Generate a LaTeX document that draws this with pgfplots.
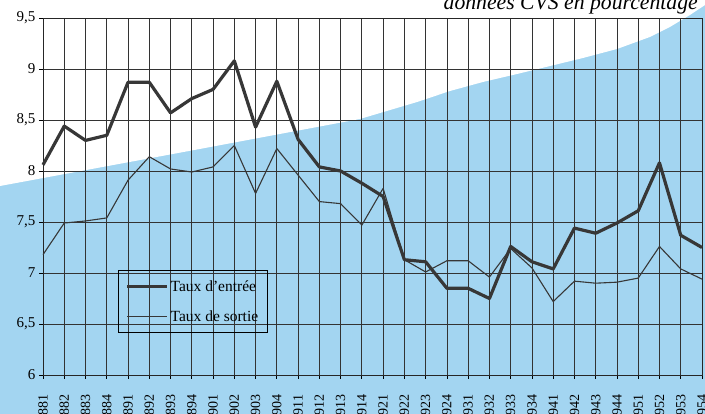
\documentclass[border=0pt]{standalone}
\usepackage{fontspec}
\setmainfont{Liberation Serif}
\usepackage{pgfplots}
\pgfplotsset{compat=1.18}
\definecolor{bgblue}{RGB}{163,213,241}
\definecolor{linegray}{RGB}{55,55,55}
\begin{document}
\begin{tikzpicture}
\begin{axis}[
  set layers,
  scale only axis,
  width=659pt, height=357pt,
  xmin=0, xmax=31, ymin=6, ymax=9.5,
  clip=false,
  /pgf/number format/assume math mode=true,
  xtick={0,...,31},
  xticklabels={881,882,883,884,891,892,893,894,901,902,903,904,911,912,913,914,921,922,923,924,931,932,933,934,941,942,943,944,951,952,953,954},
  ytick={6,6.5,...,9.5},
  yticklabels={6,{6,5},7,{7,5},8,{8,5},9,{9,5}},
  xtick pos=bottom, ytick pos=left,
  tick align=outside, major tick length=4pt,
  tick style={black, line width=0.8pt},
  grid=major,
  major grid style={line width=0.8pt, color=black!80},
  axis line style={line width=0.8pt, black!85},
  xticklabel style={rotate=90, anchor=east, font=\fontsize{14}{16}\selectfont},
  xticklabel shift=12pt,
  yticklabel style={font=\fontsize{15}{17}\selectfont},
  legend style={at={(axis cs:3.53,7.03)}, anchor=north west, fill=none, draw=black, line width=0.8pt,
    font=\fontsize{15.5}{17}\selectfont, row sep=14pt, inner xsep=7pt, inner ysep=8pt},
  legend cell align=left,
  legend image code/.code={\draw[#1] (0pt,0pt) -- (40pt,0pt);},
]
\addplot[fill=bgblue, draw=none, on layer=axis background, forget plot]
  coordinates {(-2.2,5.5) (31.4,5.5) (31.4,9.8) (-2.2,9.8)} -- cycle;
\addplot[fill=white, draw=none, on layer=axis background, forget plot]
  coordinates {(-2.2,7.845) (-2.02,7.853) (7.38,8.216) (14.91,8.51) (17.59,8.676) (19.14,8.784) (20.70,8.873) (22.30,8.951) (23.85,9.029) (25.40,9.108) (27.00,9.196) (28.55,9.314) (29.49,9.412) (30.43,9.529) (31.14,9.627) (31.4,9.68) (31.4,9.8) (-2.2,9.8)} -- cycle;
\addplot[linegray, line width=3.2pt, line join=round] coordinates {
(0,8.06) (1,8.44) (2,8.30) (3,8.35) (4,8.87) (5,8.87) (6,8.57) (7,8.71) (8,8.80) (9,9.08) (10,8.43) (11,8.88) (12,8.31) (13,8.04) (14,8.00) (15,7.88) (16,7.75) (17,7.13) (18,7.11) (19,6.85) (20,6.85) (21,6.75) (22,7.26) (23,7.11) (24,7.04) (25,7.44) (26,7.39) (27,7.49) (28,7.61) (29,8.08) (30,7.37) (31,7.25)};
\addlegendentry{Taux d'entrée}
\addplot[linegray, line width=1.1pt, line join=round] coordinates {
(0,7.18) (1,7.49) (2,7.51) (3,7.54) (4,7.91) (5,8.14) (6,8.02) (7,7.99) (8,8.04) (9,8.25) (10,7.78) (11,8.22) (12,7.96) (13,7.70) (14,7.68) (15,7.47) (16,7.83) (17,7.13) (18,7.01) (19,7.12) (20,7.12) (21,6.96) (22,7.24) (23,7.05) (24,6.72) (25,6.92) (26,6.90) (27,6.91) (28,6.95) (29,7.26) (30,7.04) (31,6.94)};
\addlegendentry{Taux de sortie}
\node[anchor=base east, font=\fontsize{21.7}{24}\selectfont\itshape, inner sep=0pt] at (axis cs:30.81,9.588) {données CVS en pourcentage};
\coordinate (O) at (rel axis cs:0,0);
\end{axis}
\pgfresetboundingbox
\path[use as bounding box] ([shift={(-43pt,-39pt)}]O) rectangle ([shift={(662pt,375pt)}]O);
\end{tikzpicture}
\end{document}
